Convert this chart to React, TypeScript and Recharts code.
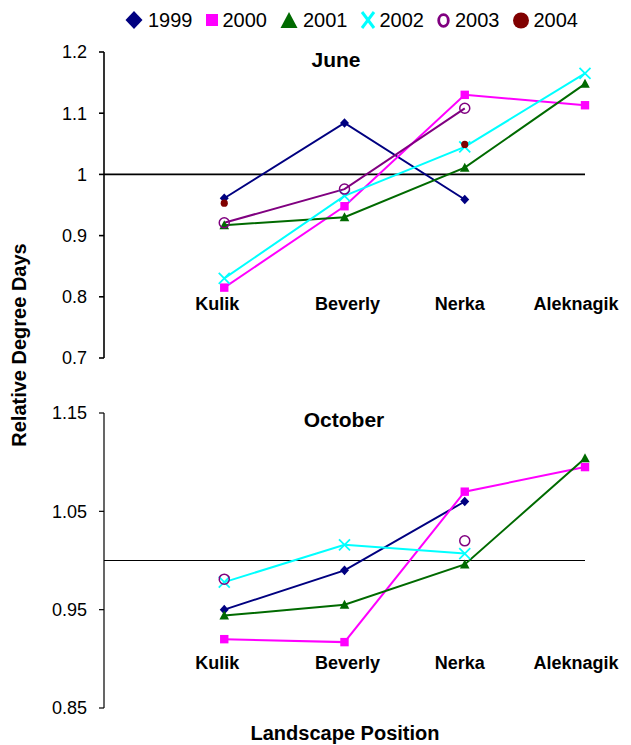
import React from "react";
import { Line, LineChart, ReferenceLine, XAxis, YAxis } from "recharts";

// Lake sites along the landscape, left to right
const SITES = ["Kulik", "Beverly", "Nerka", "Aleknagik"];

// June relative degree days per site (null = no record)
const JUNE_1999 = [0.961, 1.084, 0.959, null];
const JUNE_2000 = [0.815, 0.948, 1.13, 1.113];
const JUNE_2001 = [0.917, 0.93, 1.011, 1.148];
const JUNE_2002 = [0.83, 0.965, 1.045, 1.165];
const JUNE_2003 = [0.921, 0.976, 1.108, null];
const JUNE_2004 = [0.953, null, 1.049, null];

// October relative degree days per site
const OCT_1999 = [0.95, 0.99, 1.06, null];
const OCT_2000 = [0.92, 0.917, 1.07, 1.095];
const OCT_2001 = [0.944, 0.955, 0.996, 1.104];
const OCT_2002 = [0.978, 1.016, 1.007, null];
const OCT_2003 = [0.981, null, 1.02, null];
const OCT_2004 = [null, null, null, null];

const JUNE_TICKS = [0.7, 0.8, 0.9, 1, 1.1, 1.2];
const OCT_TICKS = [0.85, 0.95, 1.05, 1.15];

type Marker = "diamond" | "square" | "triangle" | "cross" | "ring" | "dot";

const SERIES: { key: string; label: string; color: string; marker: Marker }[] = [
  { key: "y1999", label: "1999", color: "#000080", marker: "diamond" },
  { key: "y2000", label: "2000", color: "#FF00FF", marker: "square" },
  { key: "y2001", label: "2001", color: "#006A00", marker: "triangle" },
  { key: "y2002", label: "2002", color: "#00FFFF", marker: "cross" },
  { key: "y2003", label: "2003", color: "#800080", marker: "ring" },
  { key: "y2004", label: "2004", color: "#800000", marker: "dot" },
];

const buildRows = (cols: (number | null)[][]) =>
  SITES.map((site, i) => {
    const row: Record<string, any> = { x: i + 1, site };
    SERIES.forEach((s, j) => {
      row[s.key] = cols[j][i];
    });
    return row;
  });

const juneRows = buildRows([JUNE_1999, JUNE_2000, JUNE_2001, JUNE_2002, JUNE_2003, JUNE_2004]);
const octRows = buildRows([OCT_1999, OCT_2000, OCT_2001, OCT_2002, OCT_2003, OCT_2004]);

const FONT = "'Liberation Sans', Arial, sans-serif";
// text boxes for the site names sit a little off the data columns
const LABEL_SHIFT = [-7, 3, -5, -9];

const drawMarker = (kind: Marker, cx: number, cy: number, color: string, key?: any) => {
  switch (kind) {
    case "diamond":
      return <polygon key={key} points={`${cx},${cy - 4.8} ${cx + 4.5},${cy} ${cx},${cy + 4.8} ${cx - 4.5},${cy}`} fill={color} />;
    case "square":
      return <rect key={key} x={cx - 4.2} y={cy - 4.2} width={8.4} height={8.4} fill={color} />;
    case "triangle":
      return <polygon key={key} points={`${cx},${cy - 5} ${cx + 4.8},${cy + 4} ${cx - 4.8},${cy + 4}`} fill={color} />;
    case "cross":
      return (
        <g key={key} stroke={color} strokeWidth={1.8}>
          <line x1={cx - 5.5} y1={cy - 5.5} x2={cx + 5.5} y2={cy + 5.5} />
          <line x1={cx - 5.5} y1={cy + 5.5} x2={cx + 5.5} y2={cy - 5.5} />
        </g>
      );
    case "ring":
      return <circle key={key} cx={cx} cy={cy} r={5} fill="none" stroke={color} strokeWidth={1.5} />;
    default:
      return <circle key={key} cx={cx} cy={cy} r={3.6} fill={color} />;
  }
};

const LegendIcon = ({ kind, color }: { kind: Marker; color: string }) => {
  const shapes: Record<Marker, { w: number; el: React.ReactNode }> = {
    diamond: { w: 18, el: <polygon points="9,1 17.5,10 9,19 0.5,10" fill={color} /> },
    square: { w: 12, el: <rect x={0} y={4} width={12} height={12} fill={color} /> },
    triangle: { w: 18, el: <polygon points="9,2 17.5,18 0.5,18" fill={color} /> },
    cross: {
      w: 14,
      el: (
        <g stroke={color} strokeWidth={3}>
          <line x1={1} y1={2} x2={13} y2={18} />
          <line x1={1} y1={18} x2={13} y2={2} />
        </g>
      ),
    },
    ring: { w: 13, el: <ellipse cx={6.5} cy={10.5} rx={4.8} ry={5.8} fill="none" stroke={color} strokeWidth={2.8} /> },
    dot: { w: 16, el: <circle cx={8} cy={10.5} r={8} fill={color} /> },
  };
  const s = shapes[kind];
  return (
    <svg width={s.w} height={20} style={{ display: "block", overflow: "visible" }}>
      {s.el}
    </svg>
  );
};

const SiteTick = (props: any) => {
  const { x, y, payload, lift } = props;
  const i = Math.round(payload.value) - 1;
  return (
    <text
      x={x + (LABEL_SHIFT[i] ?? 0)}
      y={y - lift}
      dy="0.35em"
      textAnchor="middle"
      fontFamily={FONT}
      fontSize={18}
      fontWeight="bold"
      fill="#000"
    >
      {SITES[i]}
    </text>
  );
};

type PanelProps = {
  rows: Record<string, any>[];
  top: number;
  height: number;
  margin: { top: number; right: number; bottom: number; left: number };
  domain: [number, number];
  ticks: number[];
  lift: number;
  axisWidth: number;
  refWidth: number;
};

const Panel = ({ rows, top, height, margin, domain, ticks, lift, axisWidth, refWidth }: PanelProps) => (
  <div style={{ position: "absolute", left: 0, top }}>
    <LineChart width={631} height={height} data={rows} margin={margin}>
      <XAxis
        type="number"
        dataKey="x"
        domain={[0, 4]}
        ticks={[1, 2, 3, 4]}
        interval={0}
        height={20}
        axisLine={false}
        tickLine={false}
        tickSize={0}
        tickMargin={0}
        tick={<SiteTick lift={lift} />}
      />
      <YAxis
        type="number"
        domain={domain}
        ticks={ticks}
        interval={0}
        width={104}
        tickSize={5}
        tickMargin={12}
        axisLine={{ stroke: "#000", strokeWidth: axisWidth }}
        tickLine={{ stroke: "#000", strokeWidth: axisWidth }}
        tick={{ fontSize: 18, fill: "#000", fontFamily: FONT }}
        tickFormatter={(v: number) => String(v)}
      />
      <ReferenceLine y={1} stroke="#000" strokeWidth={refWidth} />
      {SERIES.map((s) => (
        <Line
          key={s.key}
          dataKey={s.key}
          stroke={s.color}
          strokeWidth={2}
          isAnimationActive={false}
          activeDot={false}
          dot={(p: any) =>
            p.cy == null || Number.isNaN(p.cy) ? <g key={p.index} /> : drawMarker(s.marker, p.cx, p.cy, s.color, p.index)
          }
        />
      ))}
    </LineChart>
  </div>
);

const textStyle: React.CSSProperties = {
  position: "absolute",
  transform: "translate(-50%, -50%)",
  whiteSpace: "nowrap",
  lineHeight: 1,
  fontFamily: FONT,
  color: "#000",
};

export default function App() {
  return (
    <div style={{ position: "absolute", left: 0, top: 0, width: 631, height: 745, background: "#fff", fontFamily: FONT }}>
      <div style={{ position: "absolute", left: 125, top: 10, display: "flex", alignItems: "center", gap: 13 }}>
        {SERIES.map((s) => (
          <div key={s.key} style={{ display: "flex", alignItems: "center", gap: 5 }}>
            <LegendIcon kind={s.marker} color={s.color} />
            <span style={{ fontSize: 20, lineHeight: "20px" }}>{s.label}</span>
          </div>
        ))}
      </div>

      {/* plot area 104..585 wide, 52..358 tall */}
      <Panel
        rows={juneRows}
        top={0}
        height={378}
        margin={{ top: 52, right: 46, bottom: 0, left: 0 }}
        domain={[0.7, 1.2]}
        ticks={JUNE_TICKS}
        lift={54}
        axisWidth={1.6}
        refWidth={1.8}
      />
      {/* plot area 413..708 tall */}
      <Panel
        rows={octRows}
        top={370}
        height={375}
        margin={{ top: 43, right: 46, bottom: 17, left: 0 }}
        domain={[0.85, 1.15]}
        ticks={OCT_TICKS}
        lift={45}
        axisWidth={1.2}
        refWidth={1}
      />

      <div style={{ ...textStyle, left: 336, top: 59, fontSize: 21, fontWeight: "bold" }}>June</div>
      <div style={{ ...textStyle, left: 344, top: 419, fontSize: 21, fontWeight: "bold" }}>October</div>
      <div style={{ ...textStyle, left: 19, top: 345, fontSize: 20, fontWeight: "bold", transform: "translate(-50%, -50%) rotate(-90deg)" }}>
        Relative Degree Days
      </div>
      <div style={{ ...textStyle, left: 345, top: 733, fontSize: 20, fontWeight: "bold" }}>Landscape Position</div>
    </div>
  );
}
